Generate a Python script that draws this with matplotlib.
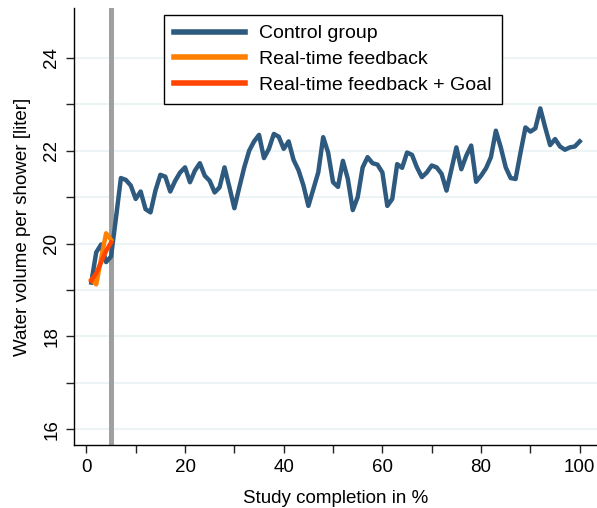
import numpy as np
import matplotlib.pyplot as plt

plt.rcParams['font.family'] = ['Liberation Sans', 'DejaVu Sans']

# Average water volume per shower over the course of the study
completion = np.arange(1, 101)
control = [19.16, 19.81, 19.98, 19.6, 19.72, 20.55, 21.41, 21.37, 21.25, 20.96,
           21.12, 20.74, 20.67, 21.14, 21.48, 21.44, 21.12, 21.35, 21.53, 21.64,
           21.32, 21.57, 21.73, 21.46, 21.35, 21.10, 21.21, 21.64, 21.21, 20.76,
           21.21, 21.64, 22.0, 22.2, 22.34, 21.84, 22.04, 22.36, 22.3, 22.04,
           22.2, 21.8, 21.58, 21.25, 20.81, 21.17, 21.53, 22.29, 21.96, 21.32,
           21.22, 21.78, 21.39, 20.72, 21.0, 21.64, 21.86, 21.73, 21.70, 21.53,
           20.81, 20.96, 21.71, 21.63, 21.96, 21.91, 21.64, 21.43, 21.53, 21.68,
           21.64, 21.5, 21.14, 21.6, 22.07, 21.6, 21.89, 22.11, 21.33, 21.46,
           21.62, 21.86, 22.43, 22.07, 21.64, 21.41, 21.39, 21.96, 22.5, 22.41,
           22.48, 22.91, 22.5, 22.12, 22.25, 22.09, 22.02, 22.07, 22.09, 22.2]

treat_x = [1, 2, 3, 4, 5]
feedback = [19.22, 19.12, 19.68, 20.22, 20.08]
feedback_goal = [19.2, 19.36, 19.6, 19.84, 20.02]

cutoff = 5

fig = plt.figure(figsize=(5.97, 5.08), dpi=100)
ax = fig.add_axes([0.124, 0.124, 0.876, 0.86])

for v in range(16, 25):
    ax.axhline(v, color='#eaf2f3', lw=1.2, zorder=0)
ax.axvline(cutoff, color='#a0a0a0', lw=3.6, zorder=1)

ax.plot(completion, control, color='#2d5a7e', lw=3.2, label='Control group', zorder=3)
ax.plot(treat_x, feedback, color='#ff8000', lw=3.2, label='Real-time feedback', zorder=4)
ax.plot(treat_x, feedback_goal, color='#ff4500', lw=3.2,
        label='Real-time feedback + Goal', zorder=5)

ax.set_xlim(-2.5, 103.5)
ax.set_ylim(15.66, 25.07)
ax.set_xticks(range(0, 101, 10))
ax.set_xticklabels([str(t) if t % 20 == 0 else '' for t in range(0, 101, 10)])
ax.set_yticks(range(16, 25))
ax.set_yticklabels([str(t) if t % 2 == 0 else '' for t in range(16, 25)],
                   rotation=90, va='center')
ax.tick_params(direction='out', length=6, width=1, labelsize=13.5, color='#222222')
ax.tick_params(axis='y', pad=4)
ax.tick_params(axis='x', pad=4)

for s in ['top', 'right']:
    ax.spines[s].set_visible(False)
for s in ['left', 'bottom']:
    ax.spines[s].set_linewidth(1)

ax.set_xlabel('Study completion in %', fontsize=13.5, labelpad=10)
ax.set_ylabel('Water volume per shower [liter]', fontsize=13.5, labelpad=9)

leg = ax.legend(loc='upper left', bbox_to_anchor=(164 / 597, 1 - 15 / 508),
                bbox_transform=fig.transFigure, fontsize=14, frameon=True,
                fancybox=False, edgecolor='black', framealpha=1,
                handlelength=3.65, handletextpad=0.75, borderpad=0.5,
                labelspacing=0.42, borderaxespad=0)
leg.get_frame().set_linewidth(1)
for line in leg.get_lines():
    line.set_linewidth(4)

fig.savefig('out.png', dpi=100)
